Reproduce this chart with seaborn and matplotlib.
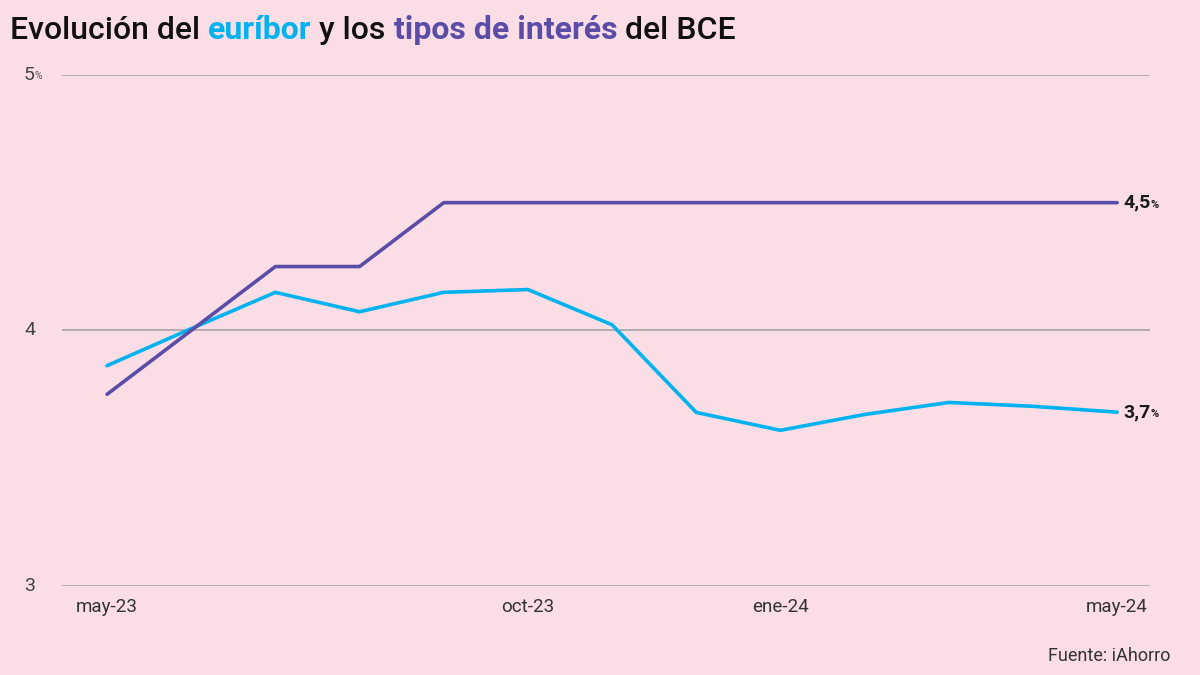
import pandas as pd
import matplotlib.pyplot as plt
import seaborn as sns
from matplotlib import transforms

meses = ['may-23', 'jun-23', 'jul-23', 'ago-23', 'sep-23', 'oct-23', 'nov-23',
         'dic-23', 'ene-24', 'feb-24', 'mar-24', 'abr-24', 'may-24']
euribor = [3.862, 4.007, 4.149, 4.073, 4.149, 4.160, 4.022,
           3.679, 3.609, 3.671, 3.718, 3.703, 3.680]
bce = [3.75, 4.00, 4.25, 4.25, 4.50, 4.50, 4.50,
       4.50, 4.50, 4.50, 4.50, 4.50, 4.50]
etiquetas_x = ['may-23', 'oct-23', 'ene-24', 'may-24']
ticks_y = [3, 4, 5]

fondo = '#FBDDE6'
azul = '#00B2EE'
morado = '#5B4CA8'
gris = '#A8A3A6'

df = pd.DataFrame({'mes': meses, 'Euríbor': euribor, 'BCE': bce})
df['pos'] = range(len(df))
largo = df.melt(id_vars=['mes', 'pos'], value_vars=['Euríbor', 'BCE'],
                var_name='serie', value_name='valor')

sns.set_theme(style='white')
plt.rcParams['font.family'] = ['Roboto', 'DejaVu Sans']

fig = plt.figure(figsize=(12, 6.75), dpi=100, facecolor=fondo)
ax = fig.add_axes([0.0517, 0.132, 0.9066, 0.757])
ax.set_facecolor(fondo)

# lineas de rejilla
for v in ticks_y:
    ax.axhline(v, color=gris, lw=1.2, zorder=1)

sns.lineplot(data=largo, x='pos', y='valor', hue='serie',
             palette={'Euríbor': azul, 'BCE': morado},
             linewidth=2.6, legend=False, ax=ax, zorder=3)

ax.set_xlim(-0.535, 12.39)
ax.set_ylim(3, 5)
sns.despine(ax=ax, left=True, bottom=True, top=True, right=True)
ax.set_xlabel('')
ax.set_ylabel('')
ax.set_yticks([])
pos_x = [meses.index(m) for m in etiquetas_x]
ax.set_xticks(pos_x)
ax.set_xticklabels(etiquetas_x, fontsize=13.5, color='#333333')
ax.tick_params(axis='x', length=0, pad=9)

# etiquetas eje y
tr = transforms.blended_transform_factory(fig.transFigure, ax.transData)
for v in ticks_y:
    t = ax.text(0.020, v, str(v), transform=tr, fontsize=14, color='#444444',
                ha='left', va='center')
    if v == 5:
        ax.annotate('%', xy=(1, 0.15), xycoords=t, fontsize=7.5, color='#555555',
                    ha='left', va='bottom')

# etiquetas finales
for col in [bce, euribor]:
    val = col[-1]
    txt = f'{val:.1f}'.replace('.', ',')
    t = ax.annotate(txt, xy=(len(meses) - 1, val), xytext=(4.5, 0),
                    textcoords='offset points', fontsize=14, fontweight='bold',
                    color='#1a1a1a', ha='left', va='center')
    ax.annotate('%', xy=(1, 0.12), xycoords=t, fontsize=8, fontweight='bold',
                color='#1a1a1a', ha='left', va='bottom')

# titulo multicolor
partes = [('Evolución del ', '#111111'), ('euríbor', azul), (' y los ', '#111111'),
          ('tipos de interés', morado), (' del BCE', '#111111')]
prev = fig.text(0.008, 0.955, partes[0][0], fontsize=23, fontweight='medium',
                color=partes[0][1], ha='left', va='center')
for texto, c in partes[1:]:
    peso = 'bold' if c != '#111111' else 'medium'
    prev = ax.annotate(texto, xy=(1, 0), xycoords=prev, fontsize=23,
                       fontweight=peso, color=c, ha='left', va='bottom',
                       annotation_clip=False)

fig.text(0.975, 0.028, 'Fuente: iAhorro', fontsize=13, color='#333333',
         ha='right', va='center')

fig.savefig('out.png', dpi=100, facecolor=fondo)
